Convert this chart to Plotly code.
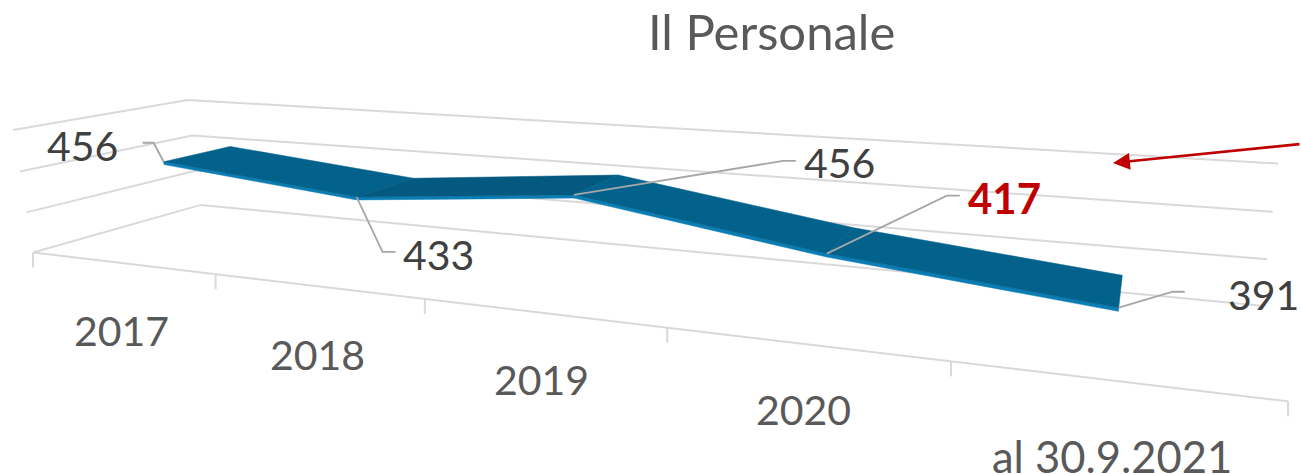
import numpy as np
import plotly.graph_objects as go

# ---- data ----
categories = ["2017", "2018", "2019", "2020", "al 30.9.2021"]
personale = [456, 433, 456, 417, 391]
axis_levels = [350, 400, 450, 500]
title_text = "Il Personale"
annotation_colors = ["#404040", "#404040", "#404040", "#C00000", "#404040"]

# ---- style / camera ----
W, H = 1301, 474
FONT = "Lato"
GRID = "#D9D9D9"
LEAD = "#A6A6A6"
TOP = ["#02628C", "#03597F", "#02628C", "#02628C"]
EDGE = "#0A7DB4"
D0, D1 = 0.30, 0.71
THICK = 3.5

# calibration of the 3-D box (category position, axis value, depth) -> page pixels
calib = [
    (0, 350, 0, 33, 252), (1, 350, 0, 216, 274), (2, 350, 0, 425, 299), (3, 350, 0, 667, 328),
    (4, 350, 0, 951, 362), (5, 350, 0, 1288, 401),
    (0, 350, 1, 200, 205), (0, 400, 1, 197, 170), (0, 450, 1, 193, 136), (0, 500, 1, 187, 100),
    (5, 350, 1, 1262, 306), (5, 400, 1, 1267, 259), (5, 450, 1, 1273, 212), (5, 500, 1, 1278, 163),
    (0, 400, 0, 26, 212), (0, 450, 0, 20, 172), (0, 500, 0, 13, 130),
]
A = []
b = []
for u, v, d, x, y in calib:
    X = [u, v / 50 - 7, d, 1]
    A.append(X + [0, 0, 0, 0] + [-x * c for c in X[:3]])
    A.append([0, 0, 0, 0] + X + [-y * c for c in X[:3]])
    b += [x, y]
sol = np.linalg.lstsq(np.array(A, float), np.array(b, float), rcond=None)[0]
P = np.append(sol, 1).reshape(3, 4)


def proj(u, v, d):
    p = P @ np.array([u, v / 50 - 7, d, 1.0])
    return p[0] / p[2], p[1] / p[2]


fig = go.Figure()


def line(pts, color=GRID, width=2):
    fig.add_trace(go.Scatter(x=[p[0] for p in pts], y=[p[1] for p in pts], mode="lines",
                             line=dict(color=color, width=width), hoverinfo="skip", showlegend=False))


def poly(pts, color):
    pts = list(pts) + [pts[0]]
    fig.add_trace(go.Scatter(x=[p[0] for p in pts], y=[p[1] for p in pts], mode="lines", fill="toself",
                             fillcolor=color, line=dict(color=color, width=0.5), hoverinfo="skip",
                             showlegend=False))


umax = len(categories)
vmin = axis_levels[0]
for lv in axis_levels:
    if lv == vmin:
        line([proj(umax, lv, 0), proj(0, lv, 0), proj(0, lv, 1), proj(umax, lv, 1)])
    else:
        line([proj(0, lv, 0), proj(0, lv, 1), proj(umax, lv, 1)])
for i in range(umax + 1):
    x, y = proj(i, vmin, 0)
    line([(x, y), (x, y + 15)])

# ribbon
n = len(personale)
us = [i + 0.5 for i in range(n)]
for i in range(n - 1):
    poly([proj(us[i], personale[i] - THICK, D0), proj(us[i + 1], personale[i + 1] - THICK, D0),
          proj(us[i + 1], personale[i + 1], D0), proj(us[i], personale[i], D0)], EDGE)
for i in range(n - 1):
    poly([proj(us[i], personale[i], D0), proj(us[i + 1], personale[i + 1], D0),
          proj(us[i + 1], personale[i + 1], D1), proj(us[i], personale[i], D1)], TOP[i])

# leaders and labels: pixel offsets from the projected point
elbows = [((-10, -19), (-21, -19)), ((26, 55), (39, 55)), ((209, -34), (222, -34)),
          ((120, -58), (133, -58)), ((54, -16), (66, -16))]
label_off = [(-81, -16), (82, 58), (266, -32), (178, -56), (145, -13)]
annos = []
for i, v in enumerate(personale):
    x, y = proj(us[i], v, D0)
    line([(x, y), (x + elbows[i][0][0], y + elbows[i][0][1]), (x + elbows[i][1][0], y + elbows[i][1][1])],
         LEAD, 1.8)
    hi = i == 3
    annos.append(dict(x=x + label_off[i][0], y=y + label_off[i][1], text=f"<b>{v}</b>" if hi else str(v),
                      showarrow=False, xanchor="center", yanchor="middle",
                      font=dict(family=FONT, size=41 if not hi else 42, color=annotation_colors[i])))

cat_dy = [68, 68, 67, 66, 76]
cat_size = [41, 41, 41, 41, 43.5]
for i, c in enumerate(categories):
    x, y = proj(us[i], vmin, 0)
    annos.append(dict(x=x + 0.5, y=y + cat_dy[i], text=c, showarrow=False, xanchor="center", yanchor="middle",
                      font=dict(family=FONT, size=cat_size[i], color="#595959")))

annos.append(dict(x=771, y=31, text=title_text, showarrow=False, xanchor="center", yanchor="middle",
                  font=dict(family=FONT, size=49, color="#595959")))
annos.append(dict(x=1113, y=163, ax=1301, ay=144, axref="x", ayref="y", xref="x", yref="y", text="",
                  showarrow=True, arrowhead=2, arrowsize=1.3, arrowwidth=2.6, arrowcolor="#C00000"))

fig.update_layout(
    width=W, height=H, margin=dict(l=0, r=0, t=0, b=0), paper_bgcolor="white", plot_bgcolor="white",
    xaxis=dict(range=[0, W], visible=False, fixedrange=True),
    yaxis=dict(range=[H, 0], visible=False, fixedrange=True),
    annotations=annos, showlegend=False,
)
fig.write_html("out.html", config={"displayModeBar": False},
               post_script="document.body.style.margin='0';document.body.style.overflow='hidden';")
